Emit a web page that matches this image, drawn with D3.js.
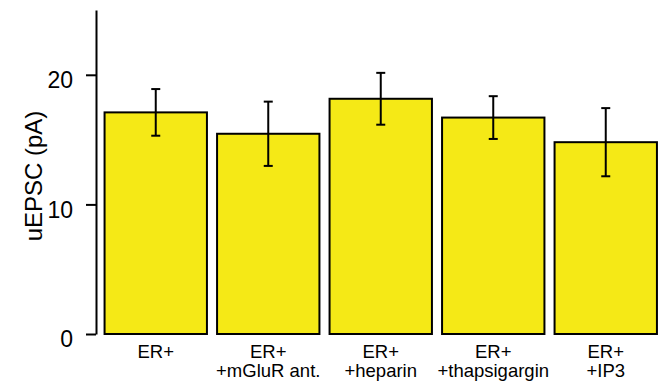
<!DOCTYPE html>
<html>
<head>
<meta charset="utf-8">
<script src="https://cdn.jsdelivr.net/npm/d3@7"></script>
<style>
  html, body { margin: 0; padding: 0; background: #fff; }
  svg { display: block; font-family: "Liberation Sans", Arial, sans-serif; }
</style>
</head>
<body>
<svg id="chart" width="660" height="391"></svg>
<script>
const categories = ["ER+", "ER+ +mGluR ant.", "ER+ +heparin", "ER+ +thapsigargin", "ER+ +IP3"];
const labelLines = [["ER+"], ["ER+", "+mGluR ant."], ["ER+", "+heparin"], ["ER+", "+thapsigargin"], ["ER+", "+IP3"]];
const means = [17.1, 15.45, 18.15, 16.7, 14.8];
const sems = [1.8, 2.48, 2.0, 1.65, 2.63];
const yTicks = [0, 10, 20];
const yLabel = "uEPSC (pA)";

const svg = d3.select("#chart");
const y = d3.scaleLinear().domain([0, 25]).range([334, 10]);
const x = d3.scaleBand().domain(categories).range([99.5, 662]).paddingInner(0.09).paddingOuter(0.045);

const data = categories.map((c, i) => ({ c, m: means[i], e: sems[i], lines: labelLines[i] }));

// bars
svg.append("g").selectAll("rect").data(data).join("rect")
  .attr("x", d => x(d.c))
  .attr("y", d => y(d.m))
  .attr("width", x.bandwidth())
  .attr("height", d => y(0) - y(d.m))
  .attr("fill", "#f5e916")
  .attr("stroke", "#000")
  .attr("stroke-width", 2);

// error bars
const eb = svg.append("g").attr("stroke", "#000").attr("stroke-width", 2);
data.forEach(d => {
  const cx = x(d.c) + x.bandwidth() / 2;
  eb.append("line").attr("x1", cx).attr("x2", cx).attr("y1", y(d.m + d.e)).attr("y2", y(d.m - d.e));
  eb.append("line").attr("x1", cx - 4.5).attr("x2", cx + 4.5).attr("y1", y(d.m + d.e)).attr("y2", y(d.m + d.e));
  eb.append("line").attr("x1", cx - 4.5).attr("x2", cx + 4.5).attr("y1", y(d.m - d.e)).attr("y2", y(d.m - d.e));
});

// y axis
const axis = d3.axisLeft(y).tickValues(yTicks).tickSize(10).tickPadding(13).tickSizeOuter(0);
const ga = svg.append("g").attr("transform", "translate(96,0)").call(axis);
ga.select(".domain").attr("stroke", "#000").attr("stroke-width", 2);
ga.selectAll(".tick line").attr("stroke", "#000").attr("stroke-width", 2);
ga.selectAll(".tick text")
  .attr("font-size", 23)
  .attr("font-family", "Liberation Sans, Arial, sans-serif")
  .attr("fill", "#000")
  .attr("dy", "0.55em");

// x labels
const xl = svg.append("g").attr("font-size", 18.5).attr("fill", "#000").attr("text-anchor", "middle");
data.forEach(d => {
  const cx = x(d.c) + x.bandwidth() / 2;
  const t = xl.append("text").attr("x", cx).attr("y", 358);
  d.lines.forEach((ln, j) => {
    t.append("tspan").attr("x", cx).attr("y", 358 + j * 18.5).text(ln);
  });
});

// y label
svg.append("text")
  .attr("transform", "translate(42,176) rotate(-90)")
  .attr("text-anchor", "middle")
  .attr("font-size", 24)
  .attr("fill", "#000")
  .text(yLabel);
</script>
</body>
</html>
